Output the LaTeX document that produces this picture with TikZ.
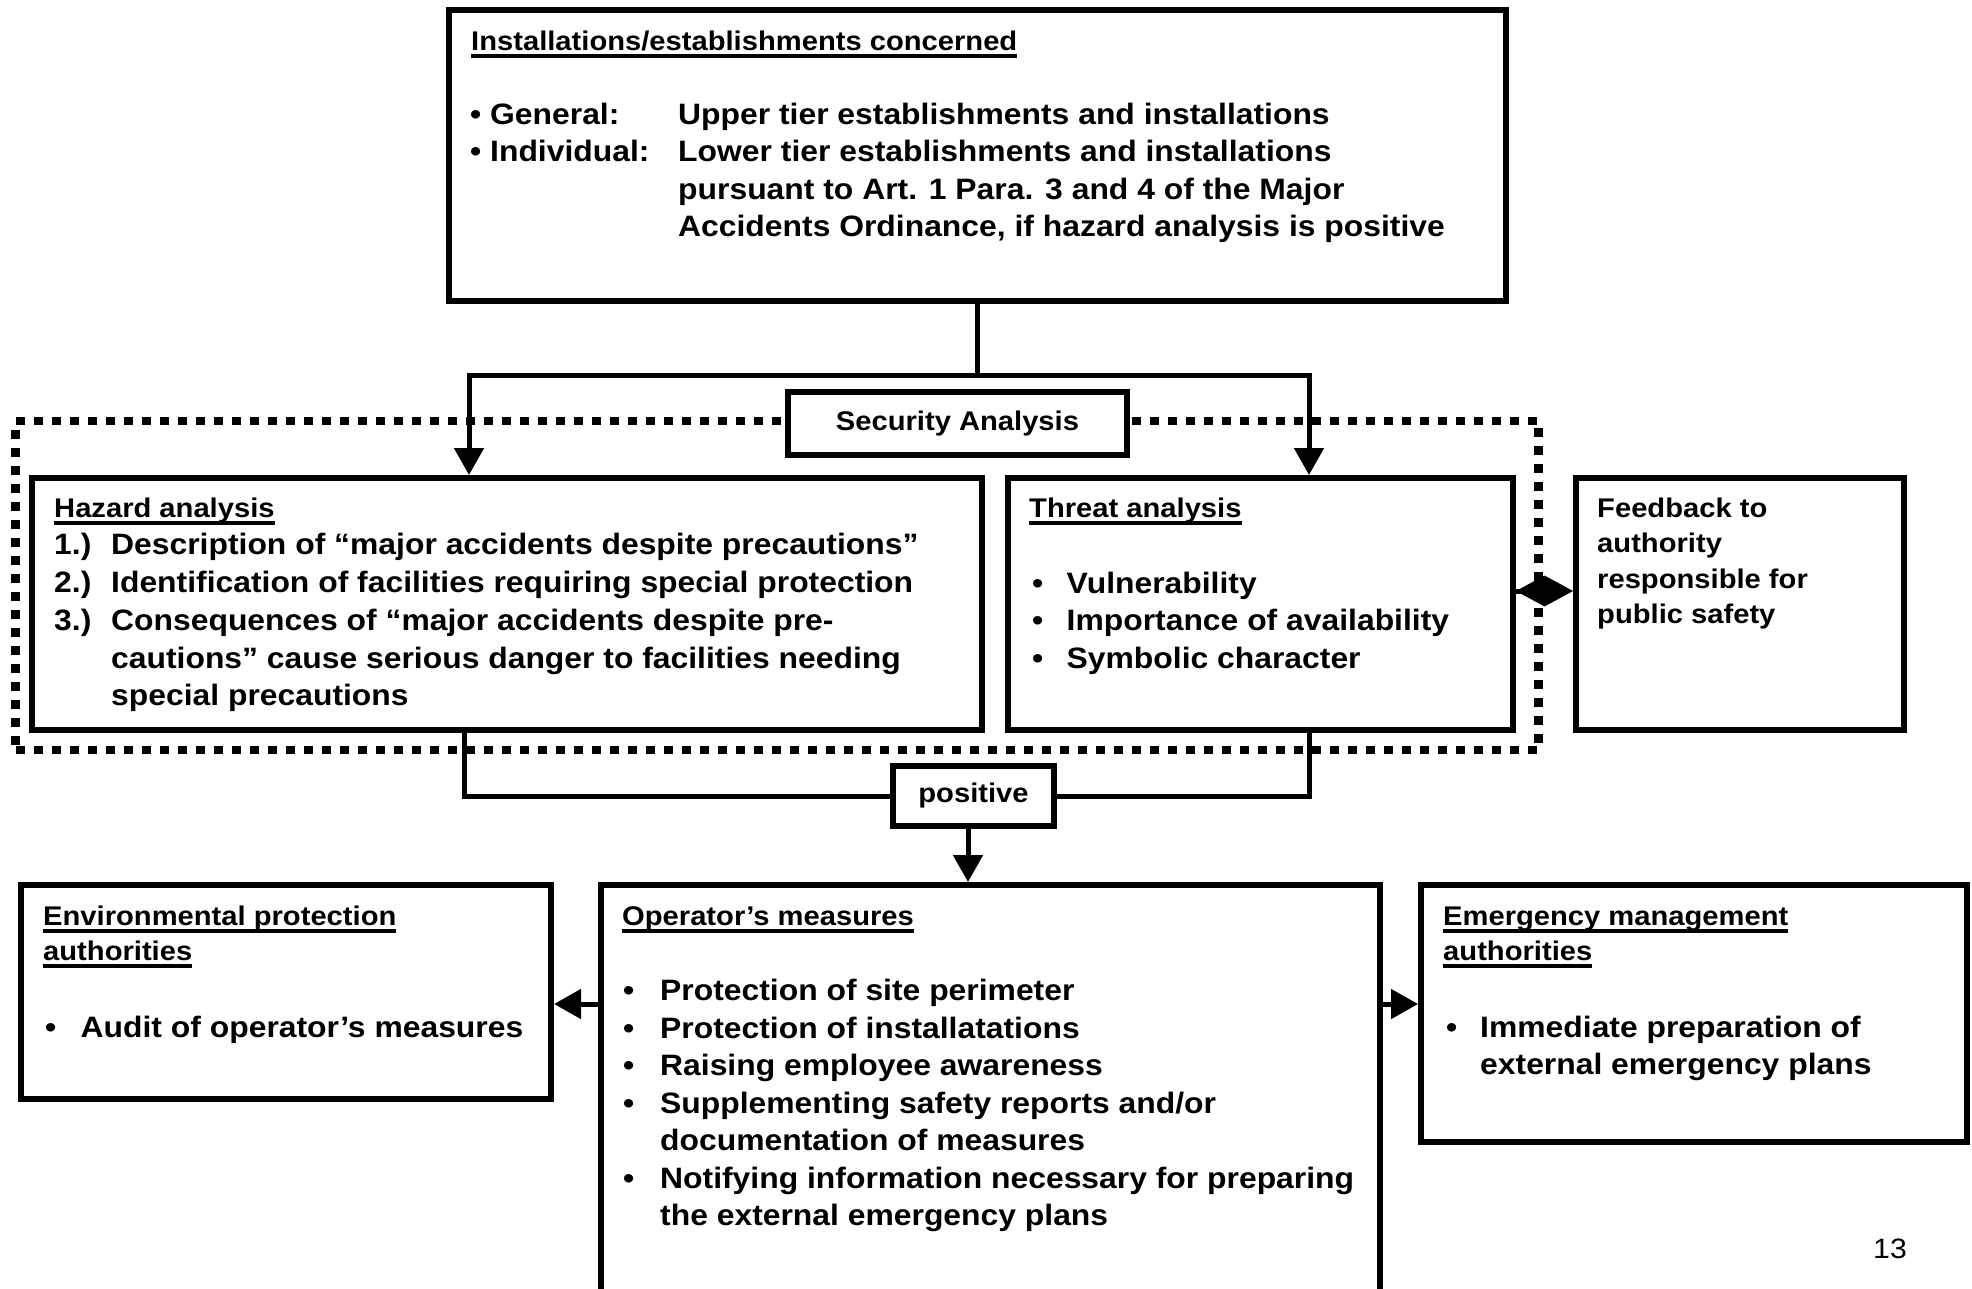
\documentclass[tikz,border=0pt]{standalone}
\usepackage{fontspec}
\setmainfont{Liberation Sans}[FakeStretch=1.08]
\usetikzlibrary{arrows.meta}
\newcommand\bodyf{\fontsize{29.5}{36}\selectfont\bfseries}
\newcommand\headf{\fontsize{27}{34}\selectfont\bfseries}
\newcommand\myul[1]{\setbox0=\hbox{#1}\rlap{\rule[-7.5pt]{\wd0}{3.5pt}}\box0}
\begin{document}
\begin{tikzpicture}[x=1pt,y=-1pt,
  abox/.style={draw, line width=6pt, fill=white, inner sep=0pt},
  conn/.style={line width=5pt},
  arr/.style={conn, -{Triangle[length=27pt,width=29pt]}},
  dia/.style={conn, -{Diamond[length=57pt,width=31pt]}},
  dotframe/.style={draw, line width=8.5pt, dash pattern=on 9pt off 9pt, inner sep=0pt},
  txt/.style={anchor=base west, inner sep=0pt, font=\bodyf},
  hd/.style={anchor=base west, inner sep=0pt, font=\headf}]
\useasboundingbox (0,0) rectangle (1972,1288);
\clip (0,0) rectangle (1972,1288);
\fill[white] (0,0) rectangle (1972,1288);

% dotted security frame
\node[dotframe, minimum width=1523pt, minimum height=329pt] (secframe) at (777,585.5) {};

% boxes
\node[abox, minimum width=1057pt, minimum height=291pt] (top) at (977.5,155.5) {};
\node[abox, minimum width=950pt, minimum height=252pt] (hazard) at (507,604) {};
\node[abox, minimum width=505pt, minimum height=252pt] (threat) at (1260.5,604) {};
\node[abox, minimum width=328pt, minimum height=252pt] (feedback) at (1740,604) {};
\node[abox, minimum width=339pt, minimum height=63pt, font=\headf] (sec) at (957.5,423.5) {Security Analysis};
\node[abox, minimum width=161pt, minimum height=60pt, font=\headf] (positive) at (973.5,796) {positive};
\node[abox, minimum width=530pt, minimum height=214pt] (env) at (286,992) {};
\node[abox, minimum width=779pt, minimum height=445pt] (operator) at (990.5,1107.5) {};
\node[abox, minimum width=546pt, minimum height=257pt] (emerg) at (1694,1013.5) {};

% connectors
\coordinate (hl) at (469,375);
\coordinate (hr) at (1309,375);
\coordinate (bl) at (464,796);
\coordinate (br) at (1309,796);
\coordinate (pa) at (968,0);
\coordinate (ay) at (0,1004);
\coordinate (dy) at (0,591);
\draw[conn] (top.south) -- (top.south |- hl);
\draw[arr] (top.south |- hl) -| (hl |- hazard.north);
\draw[arr] (top.south |- hr) -| (hr |- threat.north);
\draw[conn] (bl |- hazard.south) |- (positive.west);
\draw[conn] (br |- threat.south) |- (positive.east);
\draw[arr] (pa |- positive.south) -- (pa |- operator.north);
\draw[arr] (operator.west |- ay) -- (env.east |- ay);
\draw[arr] (operator.east |- ay) -- (emerg.west |- ay);
\draw[dia] (threat.east |- dy) -- (feedback.west |- dy);

% top box text
\node[hd] (t0) at (471,50) {\myul{Installations/establishments concerned}};
\node[txt] (t1) at (470,124) {\makebox[20pt][l]{•}\makebox[188pt][l]{General:}Upper tier establishments and installations};
\node[txt] (t2) at (470,161.5) {\makebox[20pt][l]{•}\makebox[188pt][l]{Individual:}Lower tier establishments and installations};
\node[txt] (t3) at (678,199) {pursuant to Art. 1 Para. 3 and 4 of the Major};
\node[txt] (t4) at (678,236.5) {Accidents Ordinance, if hazard analysis is positive};

% hazard text
\node[hd] (h0) at (54,517) {\myul{Hazard analysis}};
\node[txt] (h1) at (54,554) {\makebox[57pt][l]{1.)}Description of “major accidents despite precautions”};
\node[txt] (h2) at (54,592) {\makebox[57pt][l]{2.)}Identification of facilities requiring special protection};
\node[txt] (h3) at (54,630) {\makebox[57pt][l]{3.)}Consequences of “major accidents despite pre-};
\node[txt] (h4) at (111,668) {cautions” cause serious danger to facilities needing};
\node[txt] (h5) at (111,705.5) {special precautions};

% threat text
\node[hd] (r0) at (1029,517) {\myul{Threat analysis}};
\node[txt] (r1) at (1032,593) {\makebox[34.5pt][l]{•}Vulnerability};
\node[txt] (r2) at (1032,630.5) {\makebox[34.5pt][l]{•}Importance of availability};
\node[txt] (r3) at (1032,668) {\makebox[34.5pt][l]{•}Symbolic character};

% feedback text
\node[hd] (f1) at (1597,517) {Feedback to};
\node[hd] (f2) at (1597,552.5) {authority};
\node[hd] (f3) at (1597,588) {responsible for};
\node[hd] (f4) at (1597,623.5) {public safety};

% environmental text
\node[hd] (e0) at (43,925) {\myul{Environmental protection}};
\node[hd] (e1) at (43,960) {\myul{authorities}};
\node[txt] (e2) at (45,1037) {\makebox[35.5pt][l]{•}Audit of operator’s measures};

% operator text
\node[hd] (o0) at (622,925) {\myul{Operator’s measures}};
\node[txt] (o1) at (623,1000.5) {\makebox[37pt][l]{•}Protection of site perimeter};
\node[txt] (o2) at (623,1038) {\makebox[37pt][l]{•}Protection of installatations};
\node[txt] (o3) at (623,1075.5) {\makebox[37pt][l]{•}Raising employee awareness};
\node[txt] (o4) at (623,1113) {\makebox[37pt][l]{•}Supplementing safety reports and/or};
\node[txt] (o5) at (660,1150.5) {documentation of measures};
\node[txt] (o6) at (623,1188) {\makebox[37pt][l]{•}Notifying information necessary for preparing};
\node[txt] (o7) at (660,1225.5) {the external emergency plans};

% emergency text
\node[hd] (m0) at (1443,925) {\myul{Emergency management}};
\node[hd] (m1) at (1443,960) {\myul{authorities}};
\node[txt] (m2) at (1446,1037) {\makebox[34pt][l]{•}Immediate preparation of};
\node[txt] (m3) at (1480,1074.5) {external emergency plans};

% page number
\node[anchor=base west, inner sep=0pt, font=\fontsize{28}{30}\selectfont] (pg) at (1873,1258) {13};
\end{tikzpicture}
\end{document}
